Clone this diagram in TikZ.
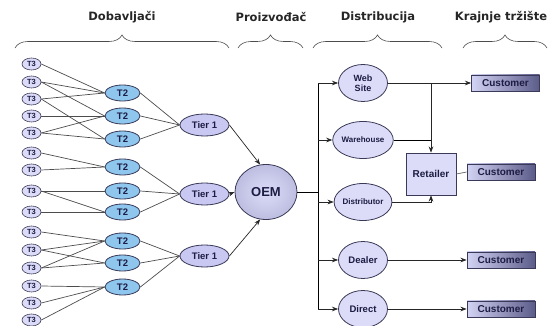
\documentclass[tikz,border=0pt]{standalone}
\usepackage{xcolor}
\usepackage{fontspec}
\setmainfont{Liberation Sans}
\newfontfamily\headfont{DejaVu Sans}
\usetikzlibrary{arrows.meta,shapes.geometric,decorations.pathreplacing,calc}
\definecolor{lav}{HTML}{DCDCF8}
\definecolor{lavmid}{HTML}{C8C8F2}
\definecolor{skyb}{HTML}{8EC6EE}
\definecolor{rim}{HTML}{3A3A58}
\definecolor{ink}{HTML}{1C1C44}
\tikzset{
  tthree/.style={ellipse,draw=rim,fill=lav,semithick,inner sep=0pt,
            minimum width=19pt,minimum height=12pt,text=ink,
            font=\bfseries\fontsize{7.5}{7.5}\selectfont},
  ttwo/.style={tthree,thick,fill=skyb,minimum width=35pt,minimum height=16pt,
            font=\bfseries\fontsize{9.5}{9.5}\selectfont},
  tierone/.style={tthree,thick,fill=lavmid,minimum width=49pt,minimum height=22pt,
            font=\bfseries\fontsize{9.5}{9.5}\selectfont},
  oem/.style={ellipse,draw=rim,thick,inner color=lav,outer color=lavmid!85!gray,
            minimum width=62pt,minimum height=55pt,text=ink,
            font=\bfseries\fontsize{13}{13}\selectfont},
  outlet/.style={ellipse,draw=rim,fill=lav,thick,inner sep=0pt,align=center,
            minimum width=49pt,minimum height=37pt,text=ink,
            font=\bfseries\fontsize{9}{10}\selectfont},
  retail/.style={draw=rim,fill=lav,thick,minimum width=50pt,minimum height=42pt,
            text=ink,font=\bfseries\fontsize{10}{10}\selectfont},
  cust/.style={draw=rim,thick,left color=lavmid!80!white,right color=gray!80!blue!90!black,
            minimum width=68pt,minimum height=16pt,inner sep=0pt,text=ink,
            font=\bfseries\fontsize{10}{10}\selectfont},
  head/.style={font=\headfont\bfseries\fontsize{11.5}{11.5}\selectfont,text=black!85},
  brace/.style={decorate,decoration={brace,amplitude=13pt},gray!60!black,semithick},
  link/.style={black!70,line width=0.7pt},
  arr/.style={->,>=Stealth,black!85,line width=0.7pt},
}
\begin{document}
\begin{tikzpicture}[x=1pt,y=-1pt]
  \useasboundingbox (0,0) rectangle (555,326);
  % headers with braces
  \node[head] (hsup) at (122,17) {Dobavljači};
  \node[head] (hman) at (271,17) {Proizvođač};
  \node[head] (hdis) at (378,17) {Distribucija};
  \node[head] (hend) at (501,17) {Krajnje tržište};
  \draw[brace] (15,48) -- (229,48);
  \draw[brace] (238,48) -- (303,48);
  \draw[brace] (313,48) -- (442,48);
  \draw[brace] (463,48) -- (547,48);
  % suppliers
  \foreach \i/\y in {1/64,2/82,3/99,4/116,5/133,6/153,7/170,8/191,
                     9/212,10/232,11/250,12/268,13/286,14/303,15/320}
    \node[tthree] (s\i) at (31.5,\y) {T3};
  \foreach \i/\y in {1/93,2/116,3/139,4/167,5/191,6/212,7/241,8/263,9/287}
    \node[ttwo] (t\i) at (122.5,\y) {T2};
  \foreach \i/\y in {1/125,2/194,3/256}
    \node[tierone] (r\i) at (204.5,\y) {Tier 1};
  \node[oem] (oem) at (266,192) {OEM};
  % T3 -> T2 -> Tier 1
  \foreach \a/\b in {1/1,2/1,2/2,3/1,3/3,4/2,5/2,5/3,6/4,7/4,8/5,8/6,9/6,
                     10/7,11/7,11/8,12/7,12/8,13/9,14/9,15/9}
    \draw[link] (s\a.east) -- (t\b.west);
  \foreach \a/\b in {1/1,2/1,3/1,4/2,5/2,6/2,7/3,8/3,9/3}
    \draw[link] (t\a.east) -- (r\b.west);
  \draw[arr] (r1.east) -- (oem.102);
  \draw[arr] (r2.east) -- (oem.west);
  \draw[arr] (r3.east) -- (oem.258);
  % distribution
  \coordinate (trunk) at (318,192);
  \node[outlet] (web) at (363,83) {Web\\Site};
  \node[outlet,font=\bfseries\fontsize{8}{8}\selectfont] (ware) at (363,140) {Warehouse};
  \node[outlet,font=\bfseries\fontsize{8}{8}\selectfont] (distr) at (363,202) {Distributor};
  \node[outlet,font=\bfseries\fontsize{9.5}{10}\selectfont] (deal) at (363,260) {Dealer};
  \node[outlet,font=\bfseries\fontsize{9.5}{10}\selectfont] (dirc) at (363,309) {Direct};
  \node[retail] (ret) at (431,174) {Retailer};
  \node[cust] (cu1) at (505.5,83) {Customer};
  \node[cust] (cu2) at (501,172) {Customer};
  \node[cust] (cu3) at (501,260) {Customer};
  \node[cust] (cu4) at (501,309) {Customer};
  \draw[link,black] (oem.east) -- (trunk);
  \draw[link,black] (web.west -| trunk) -- (dirc.west -| trunk);
  \foreach \d in {web,ware,distr,deal,dirc}
    \draw[arr] (\d.west -| trunk) -- (\d.west);
  % outlets -> market
  \draw[arr] (web.east) -- (cu1.west);
  \draw[arr] (web.east -| ret.north) -- (ret.north);
  \draw[link,black] (ware.east) -- (ware.east -| ret.north);
  \draw[arr] (distr.east) -- (distr.east -| ret.south) -- (ret.south);
  \draw[link,black!60] (ret.east) -- (cu2.west);
  \draw[arr] (deal.east) -- (cu3.west);
  \draw[arr] (dirc.east) -- (cu4.west);
\end{tikzpicture}
\end{document}
